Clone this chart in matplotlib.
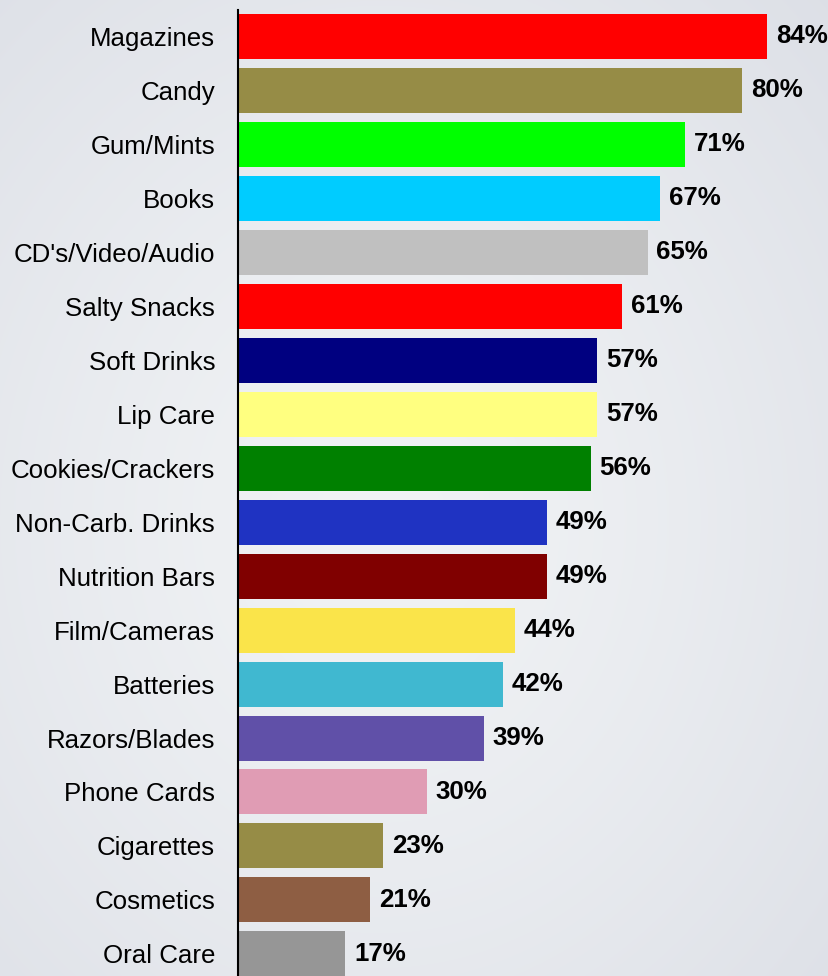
import numpy as np
import matplotlib
matplotlib.use("Agg")
import matplotlib.pyplot as plt

categories = ["Magazines", "Candy", "Gum/Mints", "Books", "CD's/Video/Audio",
              "Salty Snacks", "Soft Drinks", "Lip Care", "Cookies/Crackers",
              "Non-Carb. Drinks", "Nutrition Bars", "Film/Cameras", "Batteries",
              "Razors/Blades", "Phone Cards", "Cigarettes", "Cosmetics", "Oral Care"]
values = [84, 80, 71, 67, 65, 61, 57, 57, 56, 49, 49, 44, 42, 39, 30, 23, 21, 17]
colors = ["#FF0000", "#968C46", "#00FF00", "#00CCFF", "#C0C0C0", "#FF0000",
          "#000080", "#FFFF80", "#008000", "#1F33C2", "#800000", "#FAE44A",
          "#40B8D0", "#6050A8", "#E09CB4", "#968C46", "#8E5E43", "#969696"]

plt.rcParams['font.family'] = ['Liberation Sans', 'DejaVu Sans']

W, H = 829, 976
fig = plt.figure(figsize=(W / 100, H / 100), dpi=100)

# soft radial backdrop
bg = fig.add_axes([0, 0, 1, 1])
yy, xx = np.mgrid[0:H, 0:W]
r = np.sqrt(((xx - 380) / W) ** 2 + ((yy - 520) / H) ** 2)
t = np.clip(r / 0.8, 0, 1) ** 1.3
light = np.array([0.945, 0.953, 0.962])
dark = np.array([0.860, 0.872, 0.900])
img = light[None, None, :] * (1 - t[..., None]) + dark[None, None, :] * t[..., None]
bg.imshow(img, aspect='auto', extent=[0, 1, 0, 1])
bg.axis('off')

ax = fig.add_axes([238 / W, 0, 1 - 238 / W, (H - 10) / H])
ax.patch.set_alpha(0)
y = np.arange(len(categories))
ax.barh(y, values, height=0.834, color=colors)
ax.set_xlim(0, 93.8)
ax.set_ylim(17.41, -0.49)
ax.set_yticks(y)
ax.set_yticklabels(categories, fontsize=18.6)
ax.tick_params(axis='y', length=0, pad=16.5)
ax.set_xticks([])
for s in ['top', 'right', 'bottom']:
    ax.spines[s].set_visible(False)
ax.spines['left'].set_linewidth(1.5)
ax.spines['left'].set_color('black')

for yi, v in zip(y, values):
    ax.text(v + 1.4, yi, f"{v}%", va='center', ha='left', fontsize=18.6,
            fontweight='bold', color='black')

fig.savefig("out.png", dpi=100)
